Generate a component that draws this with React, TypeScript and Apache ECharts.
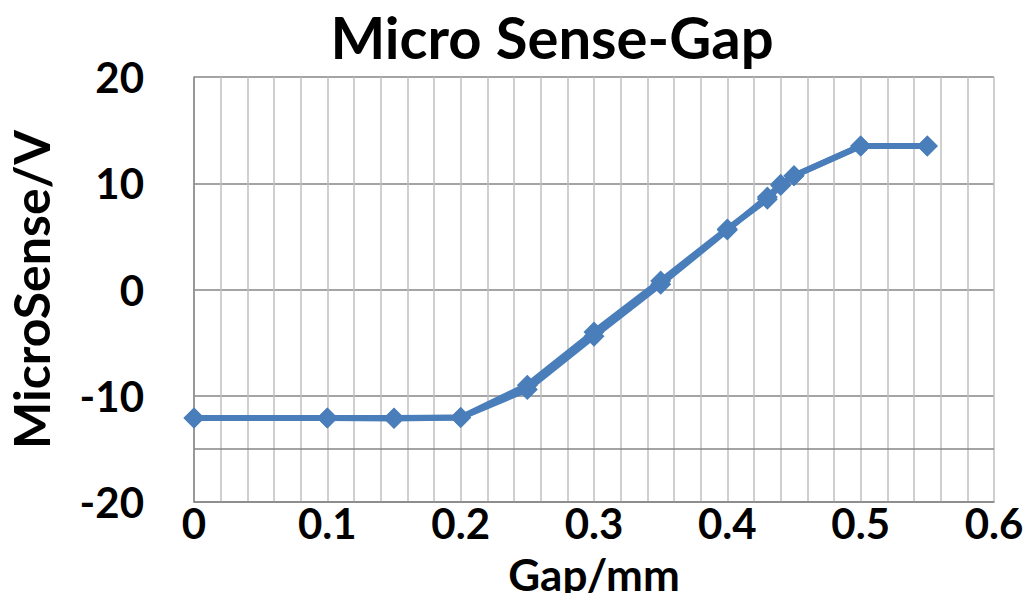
import React, { useEffect, useRef } from "react";
import * as echarts from "echarts";

const gapMm = [0, 0.1, 0.15, 0.2, 0.25, 0.3, 0.35, 0.4, 0.43, 0.44, 0.45, 0.5, 0.55];
const senseUp = [-12.1, -12.1, -12.1, -12.05, -9.0, -4.0, 0.8, 5.7, 8.5, 9.8, 10.7, 13.5, 13.5];
const senseDown = [-12.1, -12.1, -12.15, -12.05, -9.4, -4.4, 0.5, 5.6, 8.7, 9.9, 10.7, 13.5, 13.5];
const extraGridY = [-15];

const FONT = "Lato, 'Open Sans', sans-serif";
const BLUE = "#4a7ebb";
const DARK = "#868686";
const LIGHT = "#bfbfbf";

export default function App() {
  const ref = useRef<HTMLDivElement>(null);
  useEffect(() => {
    if (!ref.current) return;
    const chart = echarts.init(ref.current, null, { renderer: "svg" });
    const mk = (ys: number[]) => gapMm.map((x, i) => [x, ys[i]]);
    chart.setOption({
      animation: false,
      backgroundColor: "#ffffff",
      title: {
        text: "Micro Sense-Gap",
        left: 547,
        textAlign: "center",
        top: 2,
        textStyle: { fontFamily: FONT, fontWeight: "bold", fontSize: 58, color: "#000" },
      },
      grid: {
        left: 194,
        right: 38,
        top: 77,
        bottom: 99,
        containLabel: false,
        outerBoundsMode: "none",
      },
      xAxis: {
        type: "value",
        min: 0,
        max: 0.6,
        interval: 0.1,
        name: "Gap/mm",
        nameLocation: "middle",
        nameGap: 50,
        nameTextStyle: { fontFamily: FONT, fontWeight: "bold", fontSize: 44, color: "#000" },
        axisLine: { show: true, onZero: false, lineStyle: { color: DARK, width: 1.5 } },
        axisTick: { show: false },
        minorTick: { show: false, splitNumber: 5 },
        splitLine: { show: true, lineStyle: { color: LIGHT, width: 1.5 } },
        minorSplitLine: { show: true, lineStyle: { color: LIGHT, width: 1.5 } },
        axisLabel: {
          margin: 0,
          fontFamily: FONT,
          fontWeight: "bold",
          fontSize: 42,
          color: "#000",
          formatter: (v: number) => String(+v.toFixed(1)),
        },
      },
      yAxis: {
        type: "value",
        min: -20,
        max: 20,
        interval: 10,
        name: "MicroSense/V",
        nameLocation: "middle",
        nameGap: 138,
        nameRotate: 90,
        nameTextStyle: { fontFamily: FONT, fontWeight: "bold", fontSize: 50, color: "#000" },
        axisLine: { show: true, lineStyle: { color: DARK, width: 1.5 } },
        axisTick: { show: false },
        splitLine: { show: true, lineStyle: { color: DARK, width: 1.5 } },
        axisLabel: {
          margin: 50,
          fontFamily: FONT,
          fontWeight: "bold",
          fontSize: 42,
          color: "#000",
        },
      },
      series: [
        {
          type: "line",
          data: mk(senseUp),
          symbol: "diamond",
          symbolSize: 21,
          lineStyle: { color: BLUE, width: 6 },
          itemStyle: { color: BLUE },
          z: 3,
          markLine: {
            silent: true,
            symbol: "none",
            label: { show: false },
            lineStyle: { color: DARK, width: 1.5, type: "solid" },
            data: extraGridY.map((y) => ({ yAxis: y })),
            z: 1,
          },
        },
        {
          type: "line",
          data: mk(senseDown),
          symbol: "diamond",
          symbolSize: 21,
          lineStyle: { color: BLUE, width: 6 },
          itemStyle: { color: BLUE },
          z: 3,
        },
      ],
    });
    return () => chart.dispose();
  }, []);
  return <div ref={ref} style={{ width: 1032, height: 601, margin: -8 }} />;
}
